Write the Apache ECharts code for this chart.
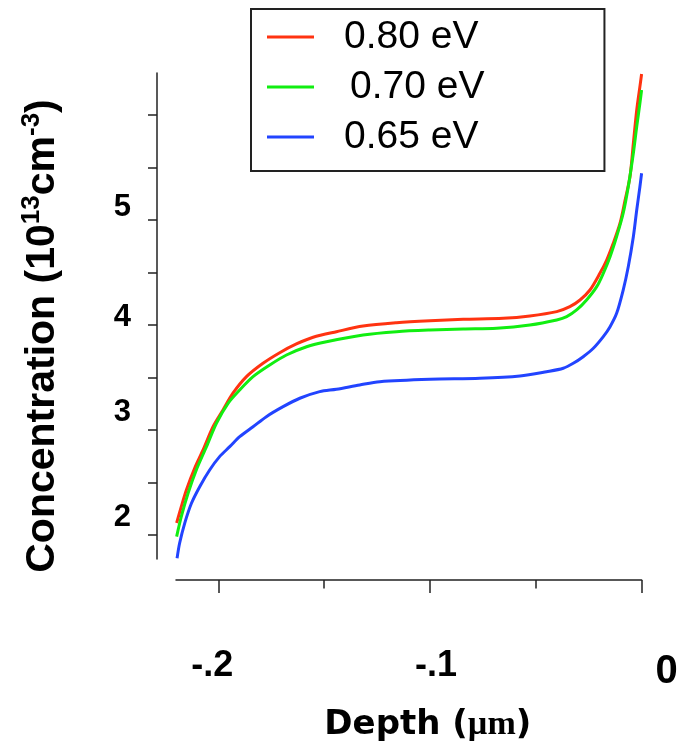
<!DOCTYPE html>
<html>
<head>
<meta charset="utf-8">
<script src="https://cdn.jsdelivr.net/npm/echarts@6/dist/echarts.min.js"></script>
<style>html,body{margin:0;padding:0;background:#fff}#c{width:685px;height:749px}</style>
</head>
<body>
<div id="c"></div>
<script>
// ---- data (depth in µm, concentration in 1e13 cm^-3) ----
var seriesNames = ['0.80 eV', '0.70 eV', '0.65 eV'];

var redDepth = [-0.2197,-0.2175,-0.2151,-0.2112,-0.2072,-0.2025,-0.1978,-0.1931,-0.1867,-0.1789,-0.1710,-0.1631,-0.1552,-0.1442,-0.1316,-0.1158,-0.1000,-0.0843,-0.0654,-0.0528,-0.0401,-0.0339,-0.0291,-0.0244,-0.0197,-0.0165,-0.0134,-0.0102,-0.0078,-0.0055,-0.0039,-0.0023,-0.0008,0.0000];
var redConc  = [2.114,2.270,2.429,2.635,2.810,3.031,3.190,3.350,3.508,3.635,3.736,3.819,3.883,3.936,3.990,4.022,4.041,4.054,4.064,4.086,4.127,4.174,4.238,4.333,4.492,4.619,4.778,4.969,5.190,5.412,5.730,6.048,6.270,6.390];

var greenDepth = [-0.2197,-0.2175,-0.2143,-0.2104,-0.2056,-0.2009,-0.1954,-0.1899,-0.1836,-0.1757,-0.1678,-0.1583,-0.1489,-0.1316,-0.1158,-0.1000,-0.0843,-0.0685,-0.0528,-0.0401,-0.0354,-0.0307,-0.0260,-0.0212,-0.0181,-0.0149,-0.0118,-0.0087,-0.0063,-0.0039,-0.0023,-0.0008,0.0000];
var greenConc  = [1.984,2.174,2.397,2.619,2.841,3.064,3.254,3.381,3.508,3.619,3.714,3.793,3.841,3.905,3.936,3.952,3.962,3.969,4.000,4.048,4.079,4.143,4.238,4.365,4.492,4.650,4.841,5.064,5.317,5.635,5.889,6.111,6.238];

var blueDepth = [-0.2195,-0.2183,-0.2159,-0.2127,-0.2088,-0.2041,-0.1994,-0.1946,-0.1899,-0.1836,-0.1773,-0.1694,-0.1615,-0.1521,-0.1442,-0.1332,-0.1237,-0.1000,-0.0764,-0.0575,-0.0449,-0.0370,-0.0323,-0.0276,-0.0228,-0.0181,-0.0149,-0.0118,-0.0087,-0.0063,-0.0039,-0.0023,-0.0008,0.0000];
var blueConc  = [1.778,1.921,2.111,2.302,2.460,2.619,2.746,2.841,2.936,3.031,3.127,3.222,3.302,3.365,3.388,3.429,3.460,3.483,3.492,3.514,3.555,3.588,3.635,3.698,3.778,3.889,3.984,4.111,4.333,4.555,4.841,5.095,5.317,5.445];

var xMajorTicks = [-0.2, -0.1, 0];
var xMinorTicks = [-0.15, -0.05];
var xTickLabels = ['-.2', '-.1', '0'];
var yTicks = [2, 2.5, 3, 3.5, 4, 4.5, 5, 5.5, 6];
var yTickLabels = [2, 3, 4, 5];

function zip(a, b) { return a.map(function (v, i) { return [v, b[i]]; }); }

var colors = ['#ff3311', '#11ee11', '#2244ff'];
var axisColor = '#222';

var chart = echarts.init(document.getElementById('c'), null, {renderer: 'canvas'});

function lineSeries(name, d, c, color) {
  return {
    name: name, type: 'line', data: zip(d, c),
    xAxisIndex: 0, yAxisIndex: 0,
    showSymbol: false, symbol: 'none', smooth: 0.3,
    lineStyle: {color: color, width: 3},
    itemStyle: {color: color},
    z: 3
  };
}

function yl(pb) { return {fontFamily: 'Liberation Sans', fontWeight: 'bold', fontSize: 31, color: '#000', padding: [0, 0, pb, 0]}; }

var option = {
  animation: false,
  backgroundColor: '#fff',
  grid: {left: 176, right: 43.4, top: 73, bottom: 190, containLabel: false},
  legend: {
    data: seriesNames,
    orient: 'vertical',
    left: 251, top: 9,
    icon: 'rect',
    itemWidth: 47, itemHeight: 3,
    itemGap: 10,
    padding: [8, 120, 14, 16],
    borderColor: '#222', borderWidth: 2,
    backgroundColor: '#fff',
    formatter: function (n) { return n === '0.70 eV' ? '{b|' + n + '}' : '{a|' + n + '}'; },
    textStyle: {
      fontFamily: 'Liberation Sans', fontSize: 39, color: '#000', lineHeight: 40,
      rich: {
        a: {fontFamily: 'Liberation Sans', fontSize: 39, color: '#000', lineHeight: 40, padding: [0, 0, 0, 25]},
        b: {fontFamily: 'Liberation Sans', fontSize: 39, color: '#000', lineHeight: 40, padding: [0, 0, 0, 31]}
      }
    }
  },
  xAxis: [{
    type: 'value', min: -0.22, max: 0, position: 'bottom', offset: 21,
    axisLine: {show: true, onZero: false, lineStyle: {color: axisColor, width: 1.5}},
    axisTick: {show: true, customValues: xMajorTicks, length: 13, lineStyle: {color: axisColor, width: 1.5}},
    axisLabel: {
      show: true, customValues: xMajorTicks, margin: 68,
      formatter: function (v) {
        var i = xMajorTicks.findIndex(function (t) { return Math.abs(t - v) < 1e-9; });
        var key = ['p', 'q', 'r'][i];
        return '{' + key + '|' + xTickLabels[i] + '}';
      },
      rich: {
        p: {fontFamily: 'Liberation Sans', fontWeight: 'bold', fontSize: 36, color: '#000', padding: [0, 12, 0, 0]},
        q: {fontFamily: 'Liberation Sans', fontWeight: 'bold', fontSize: 36, color: '#000', padding: [0, 0, 0, 12]},
        r: {fontFamily: 'Liberation Sans', fontWeight: 'bold', fontSize: 40, color: '#000', padding: [4, 0, 0, 50]}
      }
    },
    splitLine: {show: false},
    name: '{t|Depth (}{u|µm}{t|)}',
    nameLocation: 'middle', nameGap: 128,
    nameTextStyle: {
      padding: [0, 0, 0, 38],
      rich: {
        t: {fontFamily: 'DejaVu Sans', fontWeight: 'bold', fontSize: 34, color: '#000'},
        u: {fontFamily: 'Liberation Serif', fontWeight: 'bold', fontSize: 34, color: '#000'}
      }
    }
  }, {
    type: 'value', min: -0.22, max: 0, position: 'bottom', offset: 21,
    axisLine: {show: false},
    axisTick: {show: true, customValues: xMinorTicks, length: 8.5, lineStyle: {color: axisColor, width: 1.5}},
    axisLabel: {show: false},
    splitLine: {show: false}
  }],
  yAxis: [{
    type: 'value', min: 1.771, max: 6.4, position: 'left', offset: 19,
    axisLine: {show: true, onZero: false, lineStyle: {color: axisColor, width: 1.5}},
    axisTick: {show: true, customValues: yTicks, length: 9, lineStyle: {color: axisColor, width: 1.5}},
    axisLabel: {
      show: true, customValues: yTickLabels, margin: 26,
      formatter: function (v) { return '{l' + Math.round(v) + '|' + Math.round(v) + '}'; },
      rich: {l2: yl(36), l3: yl(36), l4: yl(16), l5: yl(26)}
    },
    splitLine: {show: false},
    name: '{t|Concentration (10}{s|13}{t|cm}{s|-3}{t|)}',
    nameLocation: 'middle', nameGap: 90, nameRotate: 90,
    nameTextStyle: {
      padding: [0, 40, 0, 0],
      rich: {
        t: {fontFamily: 'Liberation Sans', fontWeight: 'bold', fontSize: 41, color: '#000'},
        s: {fontFamily: 'Liberation Sans', fontWeight: 'bold', fontSize: 26, color: '#000', padding: [0, 0, 22, 0]}
      }
    }
  }],
  series: [
    lineSeries(seriesNames[0], redDepth, redConc, colors[0]),
    lineSeries(seriesNames[1], greenDepth, greenConc, colors[1]),
    lineSeries(seriesNames[2], blueDepth, blueConc, colors[2])
  ]
};
chart.setOption(option);
</script>
</body>
</html>
